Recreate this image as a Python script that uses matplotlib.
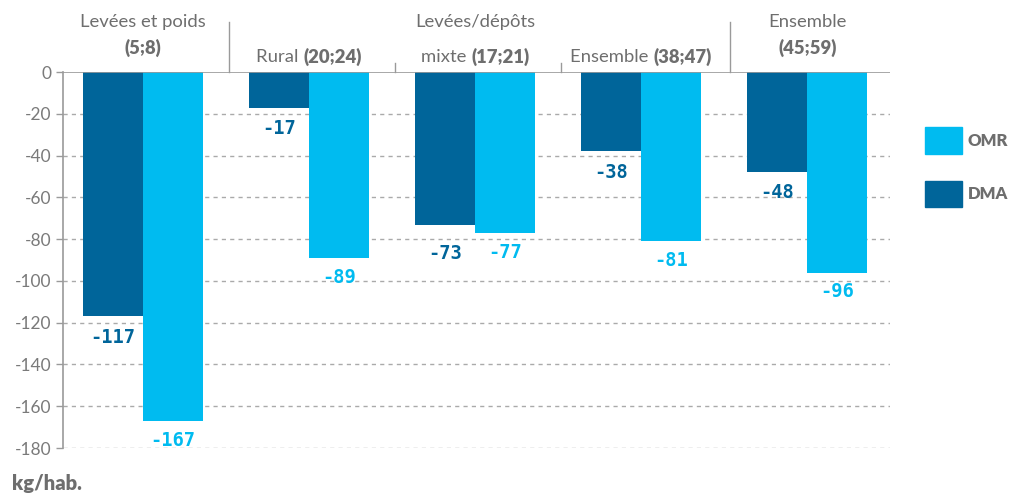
import numpy as np
import matplotlib.pyplot as plt
from matplotlib.transforms import offset_copy

plt.rcParams['font.family'] = ['Lato', 'DejaVu Sans']

# data
groups = ["Levées et poids (5;8)", "Rural (20;24)", "Levées/dépôts mixte (17;21)",
          "Ensemble (38;47)", "Ensemble (45;59)"]
dma = [-117, -17, -73, -38, -48]
omr = [-167, -89, -77, -81, -96]
yticks = [0, -20, -40, -60, -80, -100, -120, -140, -160, -180]

DARK = '#00659A'
LIGHT = '#00BBF0'
GREY = '#6E6E6E'
AXGREY = '#9A9A9A'

fig = plt.figure(figsize=(10.1, 4.94), dpi=100)
ax = fig.add_axes([0.0624, 0.0931, 0.819, 0.761])

x = np.arange(len(groups))
w = 0.361
ax.bar(x - w / 2, dma, w, color=DARK, zorder=3)
ax.bar(x + w / 2, omr, w, color=LIGHT, zorder=3)

ax.set_xlim(-0.482, 4.5)
ax.set_ylim(-180, 0)
ax.set_yticks(yticks)
ax.set_yticklabels([str(t) for t in yticks])
ax.set_xticks([])
ax.tick_params(axis='y', colors=AXGREY, labelcolor='#7A7A7A', labelsize=12.5, length=5, width=1)
for t in yticks[1:]:
    ax.axhline(t, color='#AAAAAA', lw=1, ls=(0, (3, 3)), zorder=1)
ax.axhline(0, color=AXGREY, lw=1.2, zorder=4)
for s in ['top', 'right', 'bottom']:
    ax.spines[s].set_visible(False)
ax.spines['left'].set_color(AXGREY)
ax.spines['left'].set_linewidth(1.2)

# value labels (a pair of close values shares one baseline)
mono = ['DejaVu Sans Mono']
for xi, d, o in zip(x, dma, omr):
    yd = min(d, o) if abs(d - o) < 10 else d
    ax.annotate(str(d), (xi - w / 2, yd), xytext=(0, -8), textcoords='offset points',
                ha='center', va='top', color=DARK, fontsize=13.5, fontweight='bold', family=mono)
    ax.annotate(str(o), (xi + w / 2, o), xytext=(0, -7), textcoords='offset points',
                ha='center', va='top', color=LIGHT, fontsize=13.5, fontweight='bold', family=mono)

# separators above the plot
trans = ax.get_xaxis_transform()
for sx, top in [(0.518, 1.133), (1.518, 1.024), (2.518, 1.024), (3.536, 1.133)]:
    ax.plot([sx, sx], [1, top], color=AXGREY, lw=1, transform=trans, clip_on=False)

# group labels (regular + bold parts)
renderer = fig.canvas.get_renderer()
FS = 13.3


def two_part(xc, y, normal, bold):
    t1 = ax.text(xc, y, normal, transform=trans, ha='left', va='center',
                 fontsize=FS, color=GREY)
    t2 = ax.text(xc, y, bold, transform=trans, ha='left', va='center',
                 fontsize=FS, color=GREY, fontweight='heavy')
    w1 = t1.get_window_extent(renderer).width * 72 / fig.dpi
    w2 = t2.get_window_extent(renderer).width * 72 / fig.dpi
    total = w1 + w2
    t1.set_transform(offset_copy(trans, fig=fig, x=-total / 2, units='points'))
    t2.set_transform(offset_copy(trans, fig=fig, x=-total / 2 + w1, units='points'))


ax.text(0, 1.133, "Levées et poids", transform=trans, ha='center', va='center', fontsize=FS, color=GREY)
ax.text(0, 1.064, "(5;8)", transform=trans, ha='center', va='center', fontsize=FS, color=GREY, fontweight='heavy')
two_part(1, 1.040, "Rural ", "(20;24)")
ax.text(2, 1.133, "Levées/dépôts", transform=trans, ha='center', va='center', fontsize=FS, color=GREY)
two_part(2, 1.040, "mixte ", "(17;21)")
two_part(3, 1.040, "Ensemble ", "(38;47)")
ax.text(4, 1.133, "Ensemble", transform=trans, ha='center', va='center', fontsize=FS, color=GREY)
ax.text(4, 1.064, "(45;59)", transform=trans, ha='center', va='center', fontsize=FS, color=GREY, fontweight='heavy')

# legend
for ly, lab, col in [(0.688, "OMR", LIGHT), (0.580, "DMA", DARK)]:
    fig.patches.append(plt.Rectangle((0.916, ly), 0.036, 0.054, color=col, transform=fig.transFigure))
    fig.text(0.958, ly + 0.027, lab, ha='left', va='center', fontsize=12, color=GREY, fontweight='heavy')

fig.text(0.012, 0.022, "kg/hab.", ha='left', va='center', fontsize=14.5, color=GREY, fontweight='heavy')

fig.savefig('out.png', dpi=100)
